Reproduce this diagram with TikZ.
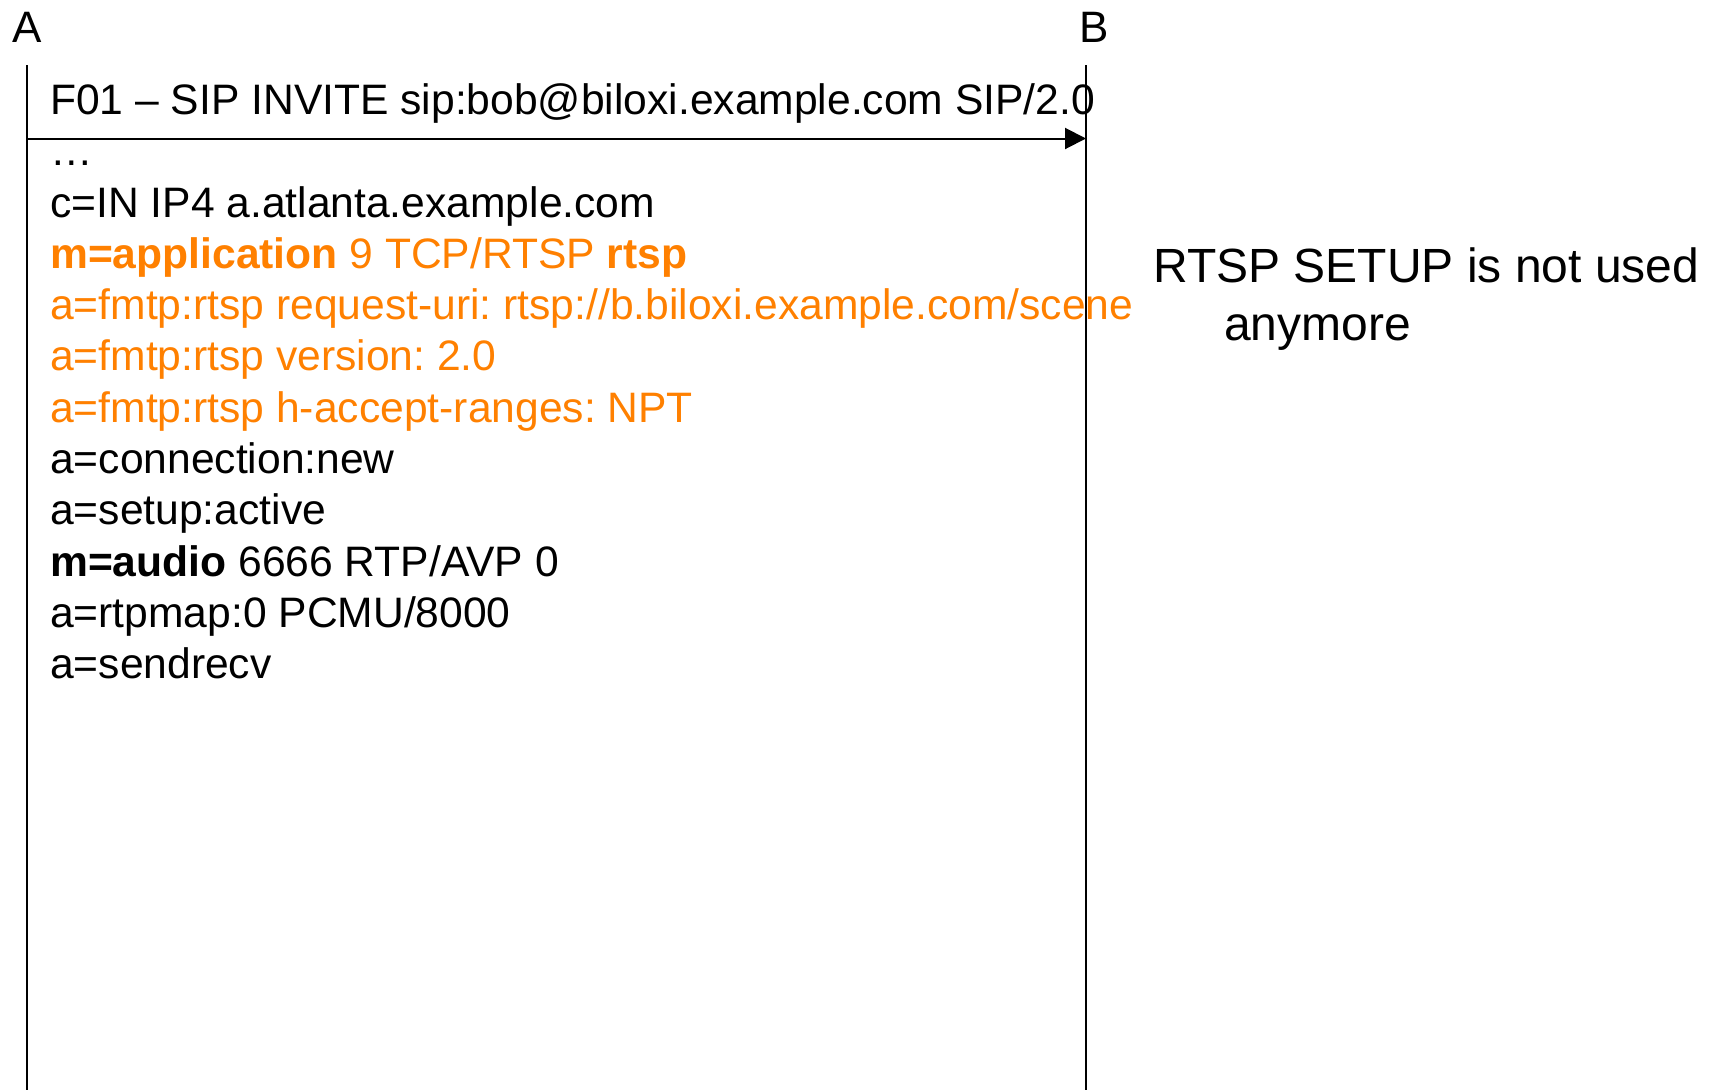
\documentclass[tikz,border=0pt]{standalone}
\usepackage{fontspec}
\setmainfont{Liberation Sans}
\usepackage{xcolor}
\usetikzlibrary{arrows.meta,positioning}
\definecolor{sdporange}{RGB}{255,128,0}
\frenchspacing

\begin{document}
\begin{tikzpicture}[x=1pt,y=-1pt,
  lifeline/.style={line width=2pt},
  msg/.style={line width=2pt,-{Triangle[length=21pt,width=21pt]}},
  party/.style={inner sep=0pt,font=\fontsize{44}{53}\selectfont},
  sdp/.style={inner sep=0pt,align=left,anchor=base west,font=\fontsize{42.6}{51.3}\selectfont},
  remark/.style={inner sep=0pt,align=left,anchor=base west,font=\fontsize{48}{58}\selectfont}]
  \useasboundingbox (0,0) rectangle (1710,1090);
  % parties and their lifelines
  \node[party] (A) at (27,27) {A};
  \node[party] (B) at (1094,27) {B};
  \coordinate (topA) at (27,65);
  \coordinate (botA) at (27,1090);
  \coordinate (topB) at (1086,65);
  \coordinate (botB) at (1086,1090);
  \draw[lifeline] (topA) -- (botA);
  \draw[lifeline] (topB) -- (botB);
  % F01 INVITE
  \coordinate (msgA) at (27,138.5);
  \coordinate (msgB) at (1086,138.5);
  \draw[msg] (msgA) -- (msgB);
  \node[sdp] (f01) at (50,114.5) {F01 – SIP INVITE sip:bob@biloxi.example.com SIP/2.0};
  % SDP body (base = last line)
  \node[sdp] (body) at (50,678.7) {…\\
    c=IN IP4 a.atlanta.example.com\\
    \color{sdporange}\textbf{m=application} 9 TCP/RTSP \textbf{rtsp}\\
    \color{sdporange}a=fmtp:rtsp request-uri: rtsp://b.biloxi.example.com/scene\\
    \color{sdporange}a=fmtp:rtsp version: 2.0\\
    \color{sdporange}a=fmtp:rtsp h-accept-ranges: NPT\\
    a=connection:new\\
    a=setup:active\\
    \textbf{m=audio} 6666 RTP/AVP 0\\
    a=rtpmap:0 PCMU/8000\\
    a=sendrecv};
  % remark
  \node[remark] (note) at (1153,340) {RTSP SETUP is not used\\\hspace*{71pt}anymore};
\end{tikzpicture}
\end{document}
